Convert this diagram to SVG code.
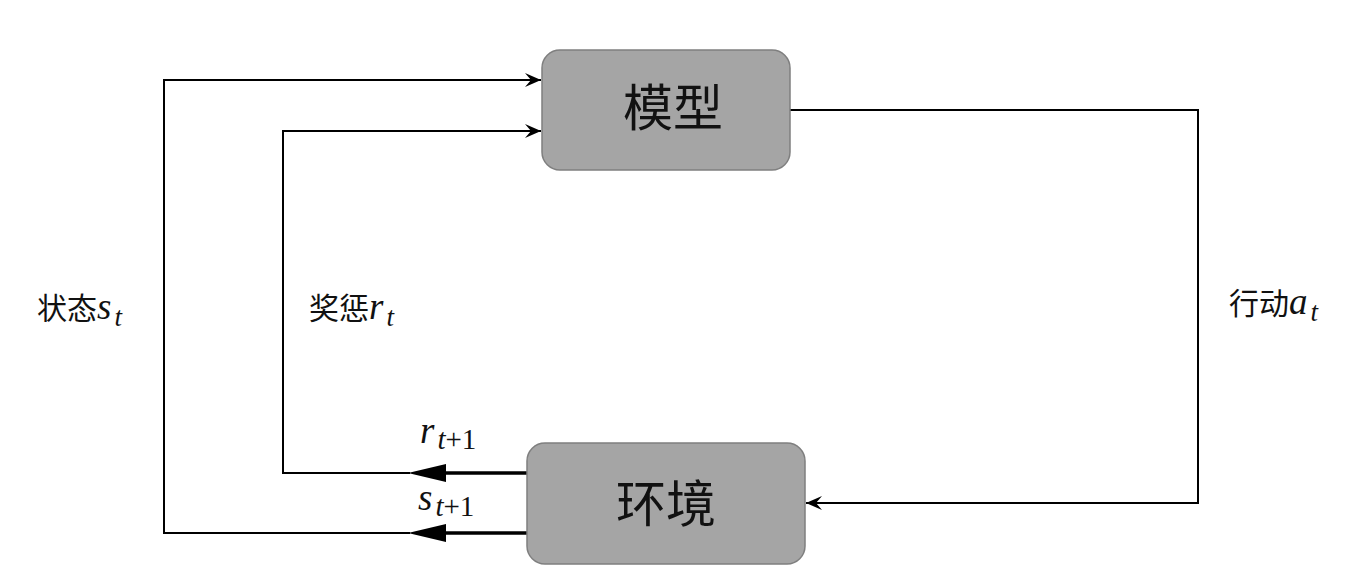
<svg xmlns="http://www.w3.org/2000/svg" width="1351" height="585" viewBox="0 0 1351 585">
<style>
.box{fill:#a5a5a5;stroke:#7f7f7f;stroke-width:1.5}
.nt{font-family:"Noto Sans CJK SC","Noto Sans",sans-serif;font-size:50px;fill:#111;text-anchor:middle;dominant-baseline:central}
.lbl{font-family:"Noto Sans CJK SC","Noto Sans",sans-serif;font-size:30px;fill:#111}
.m{font-family:"Liberation Serif","DejaVu Serif",serif;font-style:italic;fill:#111}
.up{font-style:normal}
.thin{fill:none;stroke:#000;stroke-width:2}
.thick{fill:none;stroke:#000;stroke-width:3.5}
</style>
<defs>
<marker id="open" viewBox="0 0 18 16" refX="17" refY="8" markerWidth="18" markerHeight="16" markerUnits="userSpaceOnUse" orient="auto">
<path d="M1,1 L17,8 L1,15 L7,8 Z" fill="#000"/>
</marker>
</defs>
<g id="connectors">
<path class="thin" d="M790,110 H1198 V503 H806" marker-end="url(#open)"/>
<path class="thin" d="M410,533 H164 V80 H541" marker-end="url(#open)"/>
<path class="thin" d="M410,473 H283 V131 H541" marker-end="url(#open)"/>
<path class="thick" d="M527,533 H428"/>
<path d="M408,533 L446,524 L446,542 Z" fill="#000"/>
<path class="thick" d="M527,473 H428"/>
<path d="M408,473 L446,464 L446,482 Z" fill="#000"/>
</g>
<g id="model">
<rect class="box" x="542" y="50" width="248" height="120" rx="18"/>
<text class="nt" x="673" y="104">模型</text>
</g>
<g id="env">
<rect class="box" x="527" y="443" width="278" height="121" rx="18"/>
<text class="nt" x="666" y="500">环境</text>
</g>
<g id="labels">
<text class="lbl" x="37" y="319">状态<tspan class="m" font-size="37">s</tspan><tspan class="m" font-size="27" dx="3" dy="7">t</tspan></text>
<text class="lbl" x="309" y="319">奖惩<tspan class="m" font-size="37">r</tspan><tspan class="m" font-size="27" dx="3" dy="7">t</tspan></text>
<text class="lbl" x="1229" y="314">行动<tspan class="m" font-size="37">a</tspan><tspan class="m" font-size="27" dx="3" dy="7">t</tspan></text>
<text class="m" x="420" y="443" font-size="37">r<tspan font-size="29" dx="3" dy="6">t</tspan><tspan class="up" font-size="29">+1</tspan></text>
<text class="m" x="418" y="510" font-size="37">s<tspan font-size="29" dx="3" dy="6">t</tspan><tspan class="up" font-size="29">+1</tspan></text>
</g>
</svg>
